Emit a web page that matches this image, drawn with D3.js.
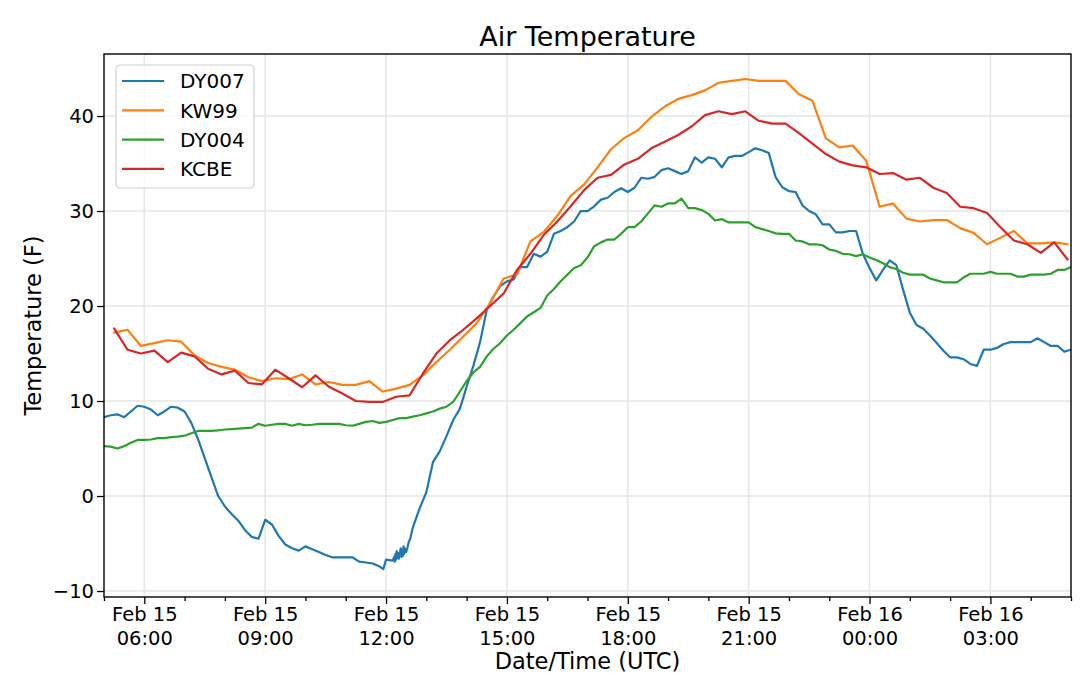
<!DOCTYPE html>
<html>
<head>
<meta charset="utf-8">
<script src="https://cdnjs.cloudflare.com/ajax/libs/d3/7.8.5/d3.min.js"></script>
<style>
  body { margin: 0; background: #fff; }
  text { font-family: "DejaVu Sans", sans-serif; fill: #000; }
</style>
</head>
<body>
<div id="chart"></div>
<script>
// station names, in plotting order
var stations = ["DY007", "KW99", "DY004", "KCBE"];
var colors = ["#1f77b4", "#ff7f0e", "#2ca02c", "#d62728"];

// DY007 / DY004 : 10 minute obs from Feb 15 05:00 UTC
var mesoStart = "2019-02-15T05:00:00Z";
var dy007 = [
  8.3, 8.5, 8.6, 8.3, 8.9, 9.5, 9.4, 9.1, 8.5, 8.9,
  9.4, 9.3, 8.9, 7.7, 6.0, 4.0, 2.0, 0.0, -1.1, -1.9,
  -2.6, -3.6, -4.3, -4.5, -2.5, -3.0, -4.2, -5.1, -5.5, -5.75,
  -5.3, -5.6, -5.9, -6.2, -6.45, -6.45, -6.45, -6.45, -6.9, -7.0,
  -7.1, -7.4, -6.7, -6.8, -6.2, -5.9, -3.3, -1.3, 0.4, 3.6,
  4.7, 6.3, 8.0, 9.2, 11.5, 13.7, 16.2, 19.6, 21.0, 22.1,
  22.6, 22.8, 24.1, 24.1, 25.5, 25.2, 25.7, 27.6, 27.9, 28.3,
  28.9, 30.0, 30.0, 30.5, 31.2, 31.4, 32.0, 32.4, 32.0, 32.45,
  33.5, 33.4, 33.6, 34.3, 34.5, 34.2, 33.9, 34.2, 35.65, 35.1,
  35.65, 35.5, 34.6, 35.65, 35.8, 35.8, 36.2, 36.6, 36.4, 36.1,
  33.6, 32.5, 32.1, 32.0, 30.6, 30.0, 29.65, 28.6, 28.6, 27.75,
  27.75, 27.9, 27.9, 25.5, 24.0, 22.7, 23.8, 24.8, 24.3, 21.7,
  19.3, 18.0, 17.6, 16.9, 16.1, 15.3, 14.6, 14.6, 14.4, 13.9,
  13.7, 15.4, 15.4, 15.6, 16.0, 16.2, 16.2, 16.2, 16.2, 16.6,
  16.2, 15.8, 15.8, 15.2, 15.4
];
// extra 1-min readings DY007 sent around 12 UTC (the noisy bit)
var dy007Extra = [
  ["11:56", -7.7], ["12:12", -6.4], ["12:13", -6.9], ["12:14", -6.1], ["12:15", -6.7],
  ["12:16", -5.8], ["12:17", -6.5], ["12:18", -6.0], ["12:19", -6.6], ["12:22", -5.5],
  ["12:23", -6.4], ["12:24", -5.7], ["12:25", -6.3], ["12:26", -5.3], ["12:27", -6.1],
  ["12:28", -5.5], ["12:32", -5.4], ["12:34", -4.8], ["12:36", -4.5]
];
var dy004 = [
  5.25, 5.2, 5.0, 5.25, 5.6, 5.9, 5.9, 5.95, 6.1, 6.1,
  6.2, 6.25, 6.35, 6.6, 6.85, 6.85, 6.85, 6.9, 7.0, 7.05,
  7.1, 7.15, 7.2, 7.6, 7.4, 7.5, 7.6, 7.6, 7.4, 7.6,
  7.45, 7.5, 7.6, 7.6, 7.6, 7.6, 7.45, 7.4, 7.6, 7.8,
  7.9, 7.7, 7.8, 8.0, 8.2, 8.2, 8.35, 8.5, 8.7, 8.9,
  9.2, 9.4, 9.9, 11.0, 12.1, 13.0, 13.6, 14.7, 15.5, 16.1,
  16.9, 17.5, 18.2, 18.9, 19.35, 19.8, 21.1, 21.8, 22.6, 23.3,
  24.0, 24.3, 25.1, 26.3, 26.7, 27.0, 27.0, 27.6, 28.3, 28.3,
  28.9, 29.75, 30.6, 30.45, 30.8, 30.8, 31.3, 30.3, 30.3, 30.1,
  29.7, 29.0, 29.15, 28.8, 28.8, 28.8, 28.8, 28.3, 28.1, 27.9,
  27.65, 27.6, 27.6, 26.9, 26.8, 26.5, 26.5, 26.4, 25.95, 25.8,
  25.5, 25.45, 25.25, 25.45, 25.1, 24.85, 24.5, 24.1, 23.9, 23.5,
  23.3, 23.3, 23.3, 22.9, 22.7, 22.5, 22.5, 22.5, 23.0, 23.4,
  23.4, 23.4, 23.6, 23.4, 23.4, 23.4, 23.1, 23.1, 23.3, 23.3,
  23.3, 23.4, 23.8, 23.8, 24.1
];

// KW99 / KCBE : obs every 20 min at :15 :35 :55
var awosStart = "2019-02-15T05:15:00Z";
var kw99 = [
  17.2, 17.5, 15.8, 16.1, 16.4, 16.25, 14.8, 14.0, 13.6, 13.3,
  12.5, 12.1, 12.4, 12.3, 12.8, 11.75, 12.0, 11.7, 11.7, 12.1,
  11.0, 11.3, 11.7, 12.7, 14.1, 15.4, 16.8, 18.2, 20.3, 22.9,
  23.3, 26.8, 27.8, 29.5, 31.6, 32.8, 34.6, 36.5, 37.7, 38.5,
  39.9, 41.0, 41.8, 42.2, 42.7, 43.5, 43.7, 43.9, 43.7, 43.7,
  43.7, 42.3, 41.6, 37.65, 36.7, 36.9, 35.3, 30.45, 30.8, 29.2,
  28.9, 29.05, 29.05, 28.2, 27.7, 26.5, 27.2, 27.9, 26.6, 26.6,
  26.7, 26.5
];
var kcbe = [
  17.65, 15.4, 15.0, 15.3, 14.1, 15.1, 14.7, 13.4, 12.8, 13.2,
  11.9, 11.75, 13.3, 12.4, 11.45, 12.7, 11.5, 10.8, 10.0, 9.9,
  9.9, 10.45, 10.6, 12.9, 15.0, 16.4, 17.5, 18.7, 20.0, 21.3,
  23.8, 25.5, 27.5, 28.9, 30.5, 32.2, 33.5, 33.8, 34.9, 35.5,
  36.6, 37.3, 38.0, 38.9, 40.1, 40.5, 40.2, 40.5, 39.5, 39.2,
  39.2, 38.2, 37.1, 36.0, 35.2, 34.8, 34.6, 33.9, 34.0, 33.3,
  33.5, 32.45, 31.9, 30.45, 30.3, 29.8, 28.3, 26.9, 26.5, 25.6,
  26.7, 24.9
];

var yTicks = [-10, 0, 10, 20, 30, 40];
var timeRange = ["2019-02-15T05:00:00Z", "2019-02-16T05:00:00Z"];

var W = 1080, H = 682,
    margin = { top: 54, right: 9, bottom: 85, left: 104 },
    width = W - margin.left - margin.right,
    height = H - margin.top - margin.bottom;

// turn value lists into {t, v} rows
function series(start, step, vals) {
  var t0 = new Date(start);
  return vals.map(function(v, i) { return { t: d3.utcMinute.offset(t0, i * step), v: v }; });
}
var d7 = series(mesoStart, 10, dy007).concat(dy007Extra.map(function(d) {
  var p = d[0].split(":");
  return { t: new Date(Date.UTC(2019, 1, 15, +p[0], +p[1])), v: d[1] };
}));
d7.sort(function(a, b) { return a.t - b.t; });

var data = [d7, series(awosStart, 20, kw99), series(mesoStart, 10, dy004), series(awosStart, 20, kcbe)];

var x = d3.scaleUtc()
    .domain(timeRange.map(function(s) { return new Date(s); }))
    .range([0, width]);
var y = d3.scaleLinear()
    .domain([-10.63, 46.53])
    .range([height, 0]);

var svg = d3.select("#chart").append("svg")
    .attr("width", W)
    .attr("height", H)
    .style("display", "block");
svg.append("rect").attr("width", W).attr("height", H).attr("fill", "#fff");

var g = svg.append("g")
    .attr("transform", "translate(" + margin.left + "," + margin.top + ")");

var majorT = x.ticks(d3.utcHour.every(3));
var minorT = x.ticks(d3.utcHour.every(1)).filter(function(d) { return d.getUTCHours() % 3 != 0; });

// grid
g.selectAll(".vgrid").data(majorT).enter().append("line")
    .attr("x1", function(d) { return x(d); }).attr("x2", function(d) { return x(d); })
    .attr("y1", 0).attr("y2", height)
    .attr("stroke", "#e6e6e6").attr("stroke-width", 1.5);
g.selectAll(".hgrid").data(yTicks).enter().append("line")
    .attr("x1", 0).attr("x2", width)
    .attr("y1", function(d) { return y(d); }).attr("y2", function(d) { return y(d); })
    .attr("stroke", "#e6e6e6").attr("stroke-width", 1.5);

// lines
var line = d3.line()
    .x(function(d) { return x(d.t); })
    .y(function(d) { return y(d.v); });

g.append("clipPath").attr("id", "clip")
  .append("rect").attr("width", width).attr("height", height);

g.append("g").attr("clip-path", "url(#clip)")
  .selectAll("path").data(data).enter().append("path")
    .attr("d", line)
    .attr("fill", "none")
    .attr("stroke", function(d, i) { return colors[i]; })
    .attr("stroke-width", 2.2)
    .attr("stroke-linejoin", "round")
    .attr("stroke-linecap", "round");

// axes
var xAxis = g.append("g")
    .attr("transform", "translate(0," + height + ")")
    .call(d3.axisBottom(x).tickValues(majorT).tickSize(7).tickPadding(4).tickFormat(""));
xAxis.selectAll(".tick text").remove();
xAxis.selectAll(".tick").append("text")
    .attr("text-anchor", "middle")
    .attr("font-size", "19.5px")
    .each(function(d) {
      var t = d3.select(this);
      t.append("tspan").attr("x", 0).attr("y", 24).text(d3.utcFormat("%b %d")(d));
      t.append("tspan").attr("x", 0).attr("y", 48).text(d3.utcFormat("%H:%M")(d));
    });
g.append("g")
    .attr("transform", "translate(0," + height + ")")
    .call(d3.axisBottom(x).tickValues(minorT).tickSize(4).tickFormat(""))
    .call(function(a) { a.select(".domain").remove(); });

var yAxis = g.append("g")
    .call(d3.axisLeft(y).tickValues(yTicks).tickSize(7).tickPadding(3));
yAxis.selectAll("text").attr("font-size", "19.5px").attr("font-family", "DejaVu Sans");
xAxis.selectAll("text").attr("font-family", "DejaVu Sans");
svg.selectAll(".tick line").attr("stroke", "#000").attr("stroke-width", 1.3);
svg.selectAll(".domain").remove();

// frame
g.append("rect")
    .attr("width", width).attr("height", height)
    .attr("fill", "none").attr("stroke", "#000").attr("stroke-width", 1.4);

// titles
svg.append("text")
    .attr("x", margin.left + width / 2).attr("y", 46)
    .attr("text-anchor", "middle").attr("font-size", "27px")
    .text("Air Temperature");
svg.append("text")
    .attr("x", margin.left + width / 2).attr("y", 669)
    .attr("text-anchor", "middle").attr("font-size", "22.5px")
    .text("Date/Time (UTC)");
svg.append("text")
    .attr("transform", "translate(41," + (margin.top + height / 2) + ") rotate(-90)")
    .attr("text-anchor", "middle").attr("font-size", "22.5px")
    .text("Temperature (F)");

// legend
var legend = g.append("g").attr("transform", "translate(12,11)");
legend.append("rect")
    .attr("width", 138).attr("height", 123).attr("rx", 4)
    .attr("fill", "#fff").attr("fill-opacity", 0.8)
    .attr("stroke", "#d0d0d0").attr("stroke-width", 1.2);
var item = legend.selectAll(".item").data(stations).enter().append("g")
    .attr("transform", function(d, i) { return "translate(0," + (16 + i * 29.3) + ")"; });
item.append("line")
    .attr("x1", 6).attr("x2", 48)
    .attr("stroke", function(d, i) { return colors[i]; })
    .attr("stroke-width", 2.2);
item.append("text")
    .attr("x", 64).attr("y", 7.3)
    .attr("font-size", "20px")
    .text(function(d) { return d; });
</script>
</body>
</html>
